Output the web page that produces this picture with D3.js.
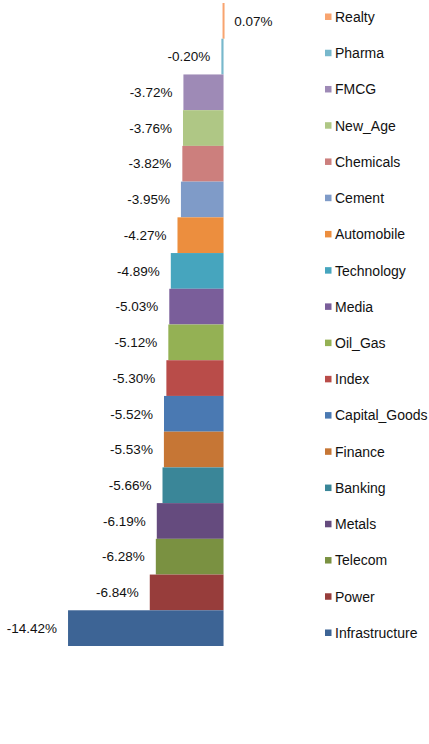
<!DOCTYPE html>
<html>
<head>
<meta charset="utf-8">
<script src="https://cdn.jsdelivr.net/npm/d3@7"></script>
<style>
  body { margin: 0; background: #fff; }
  svg text { font-family: "Liberation Sans", Arial, sans-serif; fill: #111; }
</style>
</head>
<body>
<svg id="chart" width="429" height="744"></svg>
<script>
let sectors = ["Realty", "Pharma", "FMCG", "New_Age", "Chemicals", "Cement", "Automobile",
  "Technology", "Media", "Oil_Gas", "Index", "Capital_Goods", "Finance", "Banking",
  "Metals", "Telecom", "Power", "Infrastructure"];
let changes = [0.07, -0.20, -3.72, -3.76, -3.82, -3.95, -4.27, -4.89, -5.03, -5.12,
  -5.30, -5.52, -5.53, -5.66, -6.19, -6.28, -6.84, -14.42];
let colors = ["#F8A46F", "#78B8CC", "#9E8AB6", "#AFC785", "#CC7F7D", "#7F9BC8", "#EC8E3E",
  "#46A5BE", "#7A5E9A", "#94B154", "#B94C49", "#4A79B2", "#C67635", "#3A8698",
  "#654B7E", "#7A9141", "#973D3B", "#3D6495"];

function drawBars(holder){
  let data = sectors.map((name, i) => ({name: name, value: changes[i], color: colors[i]}));
  let svg = d3.select(holder);

  let x = d3.scaleLinear()
    .domain([-16, 2])
    .range([51, 245.1]);

  let y = d3.scaleBand()
    .domain(sectors)
    .range([3, 646])
    .padding(0);

  let bars = svg.append("g").attr("class", "bars");
  bars.selectAll("rect")
    .data(data)
    .join("rect")
    .attr("x", d => Math.min(x(d.value), x(0)) - (Math.abs(x(d.value) - x(0)) < 2 ? 1 : 0))
    .attr("y", d => y(d.name))
    .attr("width", d => Math.max(Math.abs(x(d.value) - x(0)), 2))
    .attr("height", y.bandwidth())
    .attr("fill", d => d.color);

  // value labels, outside end (plain hyphen like excel)
  let fmt = v => d3.format(".2f")(v).replace("\u2212", "-") + "%";
  svg.append("g").attr("class", "labels")
    .selectAll("text")
    .data(data)
    .join("text")
    .attr("x", d => d.value < 0 ? x(d.value) - 11 : x(d.value) + 10)
    .attr("y", d => y(d.name) + y.bandwidth() / 2)
    .attr("dy", "0.35em")
    .attr("text-anchor", d => d.value < 0 ? "end" : "start")
    .attr("font-size", "13.5px")
    .text(d => fmt(d.value));

  // legend
  let ly = d3.scalePoint()
    .domain(sectors)
    .range([17, 633]);

  let legend = svg.append("g").attr("class", "legend")
    .selectAll("g")
    .data(data)
    .join("g")
    .attr("transform", d => `translate(325,${ly(d.name)})`);

  legend.append("rect")
    .attr("x", 0)
    .attr("y", -3.5)
    .attr("width", 6.5)
    .attr("height", 6.5)
    .attr("fill", d => d.color);

  legend.append("text")
    .attr("x", 10)
    .attr("dy", "0.35em")
    .attr("font-size", "14px")
    .text(d => d.name);
}

drawBars("#chart");
</script>
</body>
</html>
